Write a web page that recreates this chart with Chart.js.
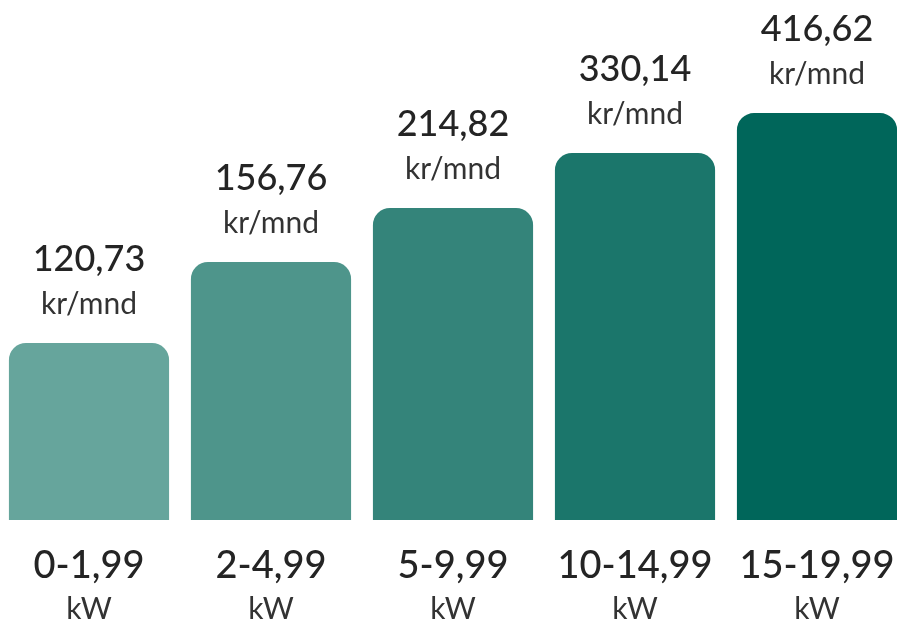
<!DOCTYPE html>
<html>
<head>
<meta charset="utf-8">
<script src="https://cdn.jsdelivr.net/npm/chart.js@4"></script>
<style>
  html, body { margin: 0; padding: 0; background: #ffffff; overflow: hidden; }
  #wrap { position: absolute; left: -2px; top: 0; width: 910px; height: 621px; }
</style>
</head>
<body>
<div id="wrap"><canvas id="c"></canvas></div>
<script>
// Categories (effect band, two-line labels)
const categoryTop = ['0-1,99', '2-4,99', '5-9,99', '10-14,99', '15-19,99'];
const categoryUnit = ['kW', 'kW', 'kW', 'kW', 'kW'];
// Price per month shown above each bar
const prices = ['120,73', '156,76', '214,82', '330,14', '416,62'];
const priceUnit = 'kr/mnd';
// Relative bar height as drawn in the picture (% of the tallest bar)
const barHeights = [43.5, 63.4, 76.7, 90.2, 100];
const barColors = ['#66a59c', '#4e958b', '#34847a', '#1b766b', '#00665a'];

const FONT = 'Lato, "Noto Sans", sans-serif';

const labelPlugin = {
  id: 'labels',
  afterDatasetsDraw(chart) {
    const ctx = chart.ctx;
    const meta = chart.getDatasetMeta(0);
    const xScale = chart.scales.x;
    const bottom = chart.chartArea.bottom;
    ctx.save();
    ctx.textAlign = 'center';
    ctx.textBaseline = 'alphabetic';
    meta.data.forEach((bar, i) => {
      const x = bar.x;
      const top = bar.y;
      ctx.fillStyle = '#242424';
      ctx.font = '500 36px ' + FONT;
      ctx.fillText(prices[i], x, top - 72);
      ctx.fillStyle = '#333333';
      ctx.font = '400 30px ' + FONT;
      ctx.fillText(priceUnit, x, top - 29);
      const cx = xScale.getPixelForValue(i);
      ctx.fillStyle = '#242424';
      ctx.font = '500 38px ' + FONT;
      ctx.fillText(categoryTop[i], cx, bottom + 58);
      ctx.fillStyle = '#333333';
      ctx.font = '400 30px ' + FONT;
      ctx.fillText(categoryUnit[i], cx, bottom + 99);
    });
    ctx.restore();
  }
};

new Chart(document.getElementById('c'), {
  type: 'bar',
  data: {
    labels: categoryTop,
    datasets: [{
      data: barHeights,
      backgroundColor: barColors,
      borderRadius: { topLeft: 17, topRight: 17, bottomLeft: 0, bottomRight: 0 },
      borderSkipped: 'bottom',
      barPercentage: 0.88,
      categoryPercentage: 1.0
    }]
  },
  options: {
    responsive: true,
    maintainAspectRatio: false,
    animation: false,
    layout: { padding: { top: 0, bottom: 101, left: 0, right: 0 } },
    plugins: { legend: { display: false }, tooltip: { enabled: false } },
    scales: {
      x: { display: false, offset: true },
      y: { display: false, min: 0, max: 127.8 }
    }
  },
  plugins: [labelPlugin]
});
</script>
</body>
</html>
